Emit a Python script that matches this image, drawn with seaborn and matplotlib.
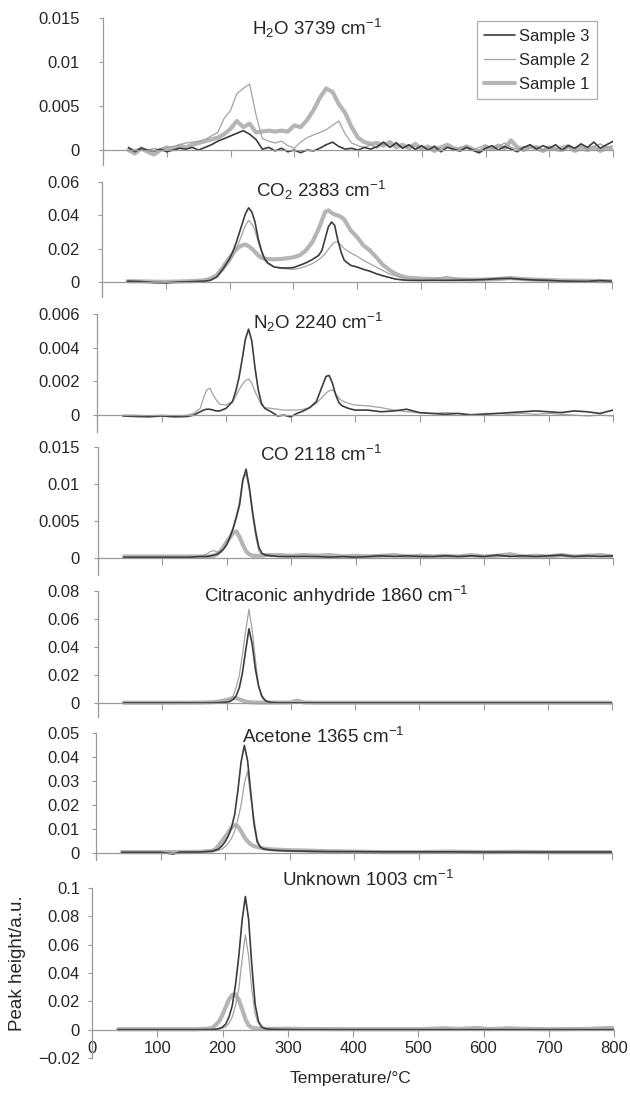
import numpy as np
import matplotlib
matplotlib.use("Agg")
import matplotlib.pyplot as plt
import seaborn as sns
from matplotlib.ticker import FuncFormatter

sns.set_style("ticks")
plt.rcParams['font.family'] = ['Liberation Sans', 'DejaVu Sans']
plt.rcParams['mathtext.fontset'] = 'custom'
plt.rcParams['mathtext.rm'] = 'Liberation Sans'
plt.rcParams['mathtext.it'] = 'Liberation Sans:italic'

# values, peak heights in units of 1e-3 a.u.
h2o_T = list(range(40, 801, 10))
h2o_s3 = [0.3, -0.2, 0.2, 0.0, -0.1, 0.1, -0.2, 0.0, 0.2, 0.1,
          0.3, 0.0, 0.3, 0.6, 1.0, 1.3, 1.6, 1.9, 2.2, 1.8,
          1.2, 0.1, 0.3, -0.1, 0.2, -0.2, 0.0, -0.3, 0.0, -0.1,
          0.2, 0.6, 0.9, 0.4, 0.1, 0.2, 0.0, 0.3, 0.1, 0.4,
          0.9, 0.3, 0.8, 0.2, 0.6, 0.1, 0.5, 0.0, 0.4, -0.2,
          0.3, 0.1, -0.1, 0.3, 0.0, -0.3, 0.2, 0.5, 0.0, 0.4,
          0.1, -0.2, 0.3, 0.6, 0.1, 0.5, 0.2, 0.6, 0.0, 0.5,
          0.2, 0.7, 0.3, 0.9, 0.2, 0.6, 1.0]
h2o_s2 = [0.2, 0.0, 0.3, -0.1, 0.2, 0.0, 0.3, 0.4, 0.6, 0.8,
          0.9, 1.0, 1.2, 1.6, 2.0, 3.6, 4.5, 6.4, 7.0, 7.5,
          4.0, 1.3, 1.0, 0.8, 1.0, 0.5, 0.2, 0.9, 1.4, 1.7,
          2.0, 2.3, 2.8, 3.3, 1.8, 0.8, 0.5, 0.3, 0.6, 0.2,
          0.7, 0.4, 0.9, 0.3, 0.6, 0.0, 0.4, 0.2, 0.5, 0.1,
          0.4, -0.1, 0.3, 0.5, 0.0, 0.3, 0.6, 0.2, 0.4, 0.8,
          0.3, 0.1, 0.4, 0.2, 0.5, 0.0, 0.3, 0.1, 0.4, 0.6,
          0.2, 0.5, 0.1, 0.4, 0.7, 0.3, 0.5]
h2o_s1 = [0.0, -0.4, 0.2, -0.2, -0.5, 0.0, 0.3, 0.1, 0.5, 0.3,
          0.6, 0.8, 1.0, 1.2, 1.4, 1.8, 2.4, 3.3, 2.6, 3.0,
          2.0, 2.1, 2.2, 2.1, 2.2, 2.1, 2.8, 2.6, 3.4, 4.5,
          5.9, 7.0, 6.6, 5.2, 4.2, 2.6, 1.4, 0.9, 0.7, 0.8,
          0.5, 0.9, 0.3, 0.6, 0.2, 0.7, 0.1, 0.4, -0.1, 0.3,
          0.6, 0.2, 0.0, 0.4, 0.1, -0.2, 0.3, 0.1, 0.5, 0.2,
          1.1, 0.3, 0.0, 0.4, 0.2, -0.1, 0.3, 0.1, 0.0, 0.4,
          -0.1, 0.2, 0.0, 0.3, -0.1, 0.2, 0.1]

co2_T = [40, 60, 80, 100, 120, 140, 160, 170, 180, 190,
         200, 205, 210, 215, 220, 225, 230, 235, 240, 245,
         250, 255, 260, 270, 280, 290, 300, 310, 320, 330,
         340, 345, 350, 355, 360, 365, 370, 375, 380, 390,
         400, 410, 420, 430, 440, 450, 460, 470, 480, 500,
         520, 540, 560, 580, 600, 620, 640, 660, 680, 700,
         720, 740, 760, 780, 800]
co2_s3 = [0.5, 0.3, -0.3, -0.5, 0.0, 0.2, 0.5, 1.0, 3.0, 8.0,
          14, 18, 23, 29, 35, 41, 44.5, 42, 36, 26,
          19, 14, 11.5, 9.0, 8.5, 8.4, 8.6, 10, 11.5, 13.5,
          16, 19, 26, 33, 36, 34, 25, 18, 13, 10,
          9, 7.6, 6.5, 5, 3.8, 2.8, 1.8, 1.3, 1.0, 0.9,
          1.0, 1.0, 1.1, 1.2, 1.5, 2.0, 2.2, 1.6, 1.2, 1.0,
          0.6, 0.4, 0.3, 0.9, 0.4]
co2_s2 = [0.4, 0.2, -0.2, -0.3, 0.1, 0.3, 0.6, 1.2, 3.0, 7.0,
          12, 15, 19, 24, 29, 34, 37, 35, 31, 24,
          18, 13, 11, 9.0, 8.2, 7.8, 7.6, 8.2, 9.4, 11,
          13.5, 15, 17, 19.5, 22, 24, 24, 22, 20, 17.5,
          15.5, 13, 11, 9, 7, 5, 3.8, 2.6, 2.0, 1.6,
          1.8, 3.2, 2.0, 1.5, 1.3, 1.4, 1.8, 1.5, 1.2, 1.0,
          0.8, 0.7, 0.6, 0.5, 0.4]
co2_s1 = [0.5, 0.4, 0.2, 0.1, 0.3, 0.5, 1.0, 2.0, 4.0, 9.0,
          14.5, 17, 19.5, 21, 22, 22.5, 21.5, 20, 18, 16,
          14.5, 14, 13.8, 13.6, 13.8, 14.2, 14.8, 16, 19, 24,
          32, 37, 42, 43, 41.5, 40.5, 40, 39, 37.5, 31,
          27, 22, 19, 15, 10.5, 7.5, 5, 3.5, 2.6, 2.0,
          1.8, 1.6, 1.5, 1.4, 1.5, 1.8, 2.4, 1.8, 1.4, 1.2,
          0.9, 0.8, 0.7, 0.6, 0.5]

n2o_T = [40, 60, 80, 100, 120, 140, 150, 160, 165, 170,
         175, 180, 185, 190, 200, 210, 215, 220, 225, 230,
         235, 240, 245, 250, 255, 260, 270, 280, 290, 300,
         310, 320, 330, 340, 345, 350, 355, 360, 365, 370,
         375, 380, 390, 400, 420, 440, 460, 480, 500, 520,
         540, 560, 580, 600, 620, 640, 660, 680, 700, 720,
         740, 760, 780, 800]
n2o_s3 = [-0.05, -0.08, -0.1, -0.05, -0.1, -0.08, 0.0, 0.2, 0.3, 0.35,
          0.35, 0.3, 0.25, 0.25, 0.4, 0.8, 1.4, 2.2, 3.3, 4.5,
          5.1, 4.4, 2.8, 1.5, 0.7, 0.4, 0.2, -0.05, 0.0, -0.1,
          0.1, 0.25, 0.45, 0.8, 1.3, 1.8, 2.3, 2.35, 1.9, 1.2,
          0.75, 0.55, 0.4, 0.3, 0.3, 0.2, 0.25, 0.35, 0.15, 0.1,
          0.05, 0.1, 0.0, 0.05, 0.1, 0.15, 0.2, 0.25, 0.2, 0.15,
          0.25, 0.2, 0.1, 0.3]
n2o_s2 = [0.0, 0.0, -0.05, 0.0, -0.05, 0.0, 0.1, 0.4, 1.0, 1.5,
          1.6, 1.2, 0.9, 0.65, 0.6, 0.8, 1.1, 1.5, 1.8, 2.05,
          2.15, 1.9, 1.4, 1.0, 0.6, 0.45, 0.4, 0.35, 0.3, 0.3,
          0.3, 0.35, 0.45, 0.7, 0.9, 1.1, 1.3, 1.45, 1.5, 1.3,
          1.0, 0.85, 0.7, 0.6, 0.55, 0.45, 0.3, 0.2, 0.15, 0.1,
          0.15, 0.1, 0.05, 0.1, 0.1, 0.05, 0.1, 0.05, 0.1, 0.05,
          0.0, -0.05, 0.0, -0.05]

co_T = [40, 60, 80, 100, 120, 140, 160, 170, 175, 180,
        185, 190, 195, 200, 205, 210, 215, 220, 225, 230,
        235, 240, 245, 250, 255, 260, 270, 280, 300, 320,
        340, 360, 380, 400, 420, 440, 460, 480, 500, 520,
        540, 560, 580, 600, 620, 640, 660, 680, 700, 720,
        740, 760, 780, 800]
co_s3 = [0.1, 0.1, 0.1, 0.1, 0.1, 0.1, 0.2, 0.2, 0.3, 0.4,
         0.5, 0.8, 1.2, 1.8, 2.8, 4.0, 5.5, 7.2, 10.5, 12.0,
         9.6, 6.3, 3.5, 1.4, 0.6, 0.4, 0.3, 0.2, 0.2, 0.2,
         0.2, 0.1, 0.2, 0.1, 0.2, 0.3, 0.2, 0.3, 0.2, 0.2,
         0.3, 0.2, 0.3, 0.2, 0.4, 0.2, 0.3, 0.2, 0.3, 0.4,
         0.2, 0.3, 0.2, 0.3]
co_s2 = [0.1, 0.1, 0.1, 0.1, 0.1, 0.1, 0.2, 0.6, 0.9, 1.0,
         0.8, 0.8, 1.2, 2.2, 3.0, 4.2, 5.8, 7.7, 10.8, 11.3,
         9.2, 5.8, 2.9, 0.9, 0.5, 0.3, 0.2, 0.2, 0.2, 0.2,
         0.2, 0.2, 0.2, 0.2, 0.2, 0.2, 0.2, 0.2, 0.2, 0.2,
         0.2, 0.2, 0.2, 0.2, 0.2, 0.2, 0.2, 0.2, 0.2, 0.2,
         0.2, 0.2, 0.2, 0.2]
co_s1 = [0.2, 0.2, 0.2, 0.2, 0.2, 0.2, 0.2, 0.2, 0.2, 0.3,
         0.5, 0.9, 1.5, 2.2, 2.8, 3.4, 3.6, 2.8, 1.8, 0.9,
         0.5, 0.3, 0.3, 0.3, 0.3, 0.4, 0.4, 0.4, 0.3, 0.4,
         0.3, 0.4, 0.2, 0.3, 0.2, 0.3, 0.4, 0.2, 0.3, 0.2,
         0.3, 0.2, 0.4, 0.2, 0.3, 0.5, 0.2, 0.3, 0.2, 0.4,
         0.2, 0.3, 0.4, 0.2]

cit_T = [40, 100, 160, 180, 190, 200, 205, 210, 215, 220,
         225, 230, 235, 240, 245, 250, 255, 260, 265, 270,
         280, 300, 310, 320, 340, 400, 500, 600, 700, 800]
cit_s3 = [0.1, 0.1, 0.1, 0.2, 0.3, 0.6, 1.0, 2.5, 5, 11,
          22, 38, 53, 42, 24, 12, 5, 2, 0.8, 0.4,
          0.2, 0.1, 0.1, 0.1, 0.1, 0.1, 0.1, 0.1, 0.1, 0.1]
cit_s2 = [0.1, 0.1, 0.1, 0.2, 0.3, 0.8, 2.0, 4.5, 11, 20,
          35, 52, 67, 52, 31, 12, 4, 1.0, 0.5, 0.3,
          0.2, 0.1, 0.1, 0.1, 0.1, 0.1, 0.1, 0.1, 0.1, 0.1]
cit_s1 = [0.2, 0.2, 0.3, 0.6, 1.2, 2.2, 2.8, 3.5, 3.4, 2.6,
          1.8, 1.0, 0.6, 0.4, 0.3, 0.3, 0.3, 0.3, 0.3, 0.3,
          0.3, 0.4, 1.7, 0.4, 0.2, 0.2, 0.2, 0.2, 0.2, 0.2]

ace_T = [40, 100, 120, 130, 160, 180, 185, 190, 195, 200,
         205, 210, 215, 220, 225, 230, 235, 240, 245, 250,
         255, 260, 270, 280, 300, 320, 340, 360, 400, 450,
         500, 550, 600, 650, 700, 750, 800]
ace_s3 = [0.2, 0.2, -0.5, 0.3, 0.3, 0.7, 1.1, 1.6, 2.8, 4.5,
          7, 10.5, 16, 26, 38, 44.8, 38.5, 25, 12, 4.5,
          2.3, 1.6, 1.2, 1.0, 0.8, 0.7, 0.6, 0.5, 0.5, 0.4,
          0.4, 0.4, 0.3, 0.3, 0.3, 0.3, 0.3]
ace_s2 = [0.2, 0.2, 0.2, 0.2, 0.3, 0.5, 0.7, 1.0, 1.5, 2.5,
          4, 6, 9, 14, 20, 29, 34, 23, 14, 5.5,
          2.5, 1.8, 1.3, 1.1, 0.9, 0.8, 0.7, 0.6, 0.5, 0.4,
          0.4, 0.4, 0.3, 0.3, 0.3, 0.3, 0.3]
ace_s1 = [0.3, 0.3, 0.3, 0.3, 0.4, 0.8, 1.4, 3.0, 4.8, 6.5,
          8.5, 10.5, 11.6, 11.0, 9.0, 6.5, 4.8, 3.5, 2.8, 2.4,
          2.1, 1.8, 1.5, 1.3, 1.1, 1.0, 0.8, 0.7, 0.5, 0.3,
          0.3, 0.5, 0.3, 0.4, 0.3, 0.3, 0.3]

unk_T = [40, 100, 160, 180, 185, 190, 195, 200, 205, 210,
         215, 220, 225, 230, 235, 240, 245, 250, 255, 260,
         265, 270, 280, 300, 320, 400, 500, 540, 560, 590,
         610, 640, 660, 700, 760, 780, 800]
unk_s3 = [0.0, 0.0, 0.0, 0.1, 0.2, 0.4, 0.9, 1.8, 4, 9,
          17, 32, 52, 77, 94, 78, 45, 18, 6, 2,
          0.8, 0.4, 0.2, 0.1, 0.0, 0.0, 0.0, 0.0, 0.0, 0.0,
          0.0, 0.0, 0.0, 0.0, 0.0, 0.0, 0.0]
unk_s2 = [0.0, 0.0, 0.0, 0.1, 0.1, 0.2, 0.4, 1.0, 2.0, 4.5,
          9, 17, 29, 49, 67, 52, 28, 11, 4.5, 1.8,
          1.0, 0.6, 0.3, 0.2, 0.1, 0.1, 0.1, 0.1, 0.1, 0.1,
          0.1, 0.1, 0.1, 0.1, 0.1, 0.1, 0.1]
unk_s1 = [0.3, 0.3, 0.3, 0.8, 1.5, 3.5, 6, 10.5, 16, 21.5,
          24.5, 25, 21, 14.5, 7.5, 3, 1.5, 1.0, 0.8, 0.7,
          0.6, 0.6, 0.6, 0.7, 0.5, 0.3, 0.3, 1.0, 0.5, 1.2,
          0.4, 1.0, 0.6, 0.3, 0.5, 1.0, 1.2]

titles = [r"H$_2$O 3739 cm$^{-1}$", r"CO$_2$ 2383 cm$^{-1}$", r"N$_2$O 2240 cm$^{-1}$",
          r"CO 2118 cm$^{-1}$", r"Citraconic anhydride 1860 cm$^{-1}$",
          r"Acetone 1365 cm$^{-1}$", r"Unknown 1003 cm$^{-1}$"]
y_ticks = [[0, 0.005, 0.01, 0.015], [0, 0.02, 0.04, 0.06], [0, 0.002, 0.004, 0.006],
           [0, 0.005, 0.01, 0.015], [0, 0.02, 0.04, 0.06, 0.08],
           [0, 0.01, 0.02, 0.03, 0.04, 0.05], [-0.02, 0, 0.02, 0.04, 0.06, 0.08, 0.1]]
x_ticks = [0, 100, 200, 300, 400, 500, 600, 700, 800]
sample_names = ["Sample 1", "Sample 2", "Sample 3"]

panels = [
    (h2o_T, [h2o_s1, h2o_s2, h2o_s3]),
    (co2_T, [co2_s1, co2_s2, co2_s3]),
    (n2o_T, [None, n2o_s2, n2o_s3]),
    (co_T, [co_s1, co_s2, co_s3]),
    (cit_T, [cit_s1, cit_s2, cit_s3]),
    (ace_T, [ace_s1, ace_s2, ace_s3]),
    (unk_T, [unk_s1, unk_s2, unk_s3]),
]

# layout in pixels: left, right, top, bottom, ymin, title x (deg C), title y (axes frac)
W, H = 630, 1096
layout = [
    (103, 613, 18, 165, -0.0017, 336, 0.93),
    (102, 612, 182, 297, -0.009, 344, 0.93),
    (97, 613, 314, 432, -0.001, 343, 0.93),
    (98, 613, 447, 575, -0.0023, 346, 0.94),
    (98, 612, 591, 717, -0.01, 371, 0.96),
    (96, 612, 733, 860, -0.003, 353, 0.97),
    (92, 614, 888, 1058, -0.02, 423, 1.047),
]
label_right = 80  # y tick labels end at this pixel column in every panel
styles = {"Sample 1": dict(color="#b5b5b5", lw=3.0),
          "Sample 2": dict(color="#a3a3a3", lw=0.9),
          "Sample 3": dict(color="#3c3c3c", lw=1.2)}
axis_grey = "#9a9a9a"


def fmt(v, pos):
    if abs(v) < 1e-12:
        return "0"
    return f"{v:g}".replace("-", "\u2212")


fig = plt.figure(figsize=(W / 100, H / 100), dpi=100)
for i, ((temps, series), (l, r, t, b, ymin, tx, ty)) in enumerate(zip(panels, layout)):
    ax = fig.add_axes([l / W, 1 - b / H, (r - l) / W, (b - t) / H])
    for name, vals in zip(sample_names, series):
        if vals is None:
            continue
        sns.lineplot(x=temps, y=np.array(vals) * 1e-3, ax=ax, label=name,
                     legend=False, **styles[name])
    ax.set_xlim(0, 800)
    ax.set_ylim(ymin, y_ticks[i][-1])
    ax.set_yticks(y_ticks[i])
    ax.yaxis.set_major_formatter(FuncFormatter(fmt))
    ax.set_xticks(x_ticks)
    ax.set_xticklabels([])
    for s in ["top", "right"]:
        ax.spines[s].set_visible(False)
    ax.spines["bottom"].set_position(("data", 0))
    for s in ["left", "bottom"]:
        ax.spines[s].set_color(axis_grey)
        ax.spines[s].set_linewidth(0.9)
    tick_len = 3
    pad_pt = (l - label_right) * 0.72 - tick_len
    ax.tick_params(axis="y", length=tick_len, width=0.8, color=axis_grey,
                   labelsize=12, pad=pad_pt)
    ax.tick_params(axis="x", length=5, width=0.8, color=axis_grey, direction="out")
    ax.set_xlabel("")
    ax.set_ylabel("")
    ax.text(tx, ty, titles[i], transform=ax.get_xaxis_transform(),
            ha="center", va="center", fontsize=13.5)
    if i == 0:
        h, lab = ax.get_legend_handles_labels()
        order = [lab.index(n) for n in ["Sample 3", "Sample 2", "Sample 1"]]
        leg = ax.legend([h[k] for k in order], [lab[k] for k in order],
                        loc="upper right", bbox_to_anchor=((597 - l) / (r - l), (b - 21) / (b - t)),
                        fontsize=12, frameon=True, fancybox=False,
                        handlelength=1.85, handletextpad=0.25, borderpad=0.45,
                        labelspacing=0.55, borderaxespad=0)
        leg.get_frame().set_edgecolor(axis_grey)
        leg.get_frame().set_linewidth(0.9)
    if i == len(panels) - 1:
        sec = ax.secondary_xaxis(0.1)
        sec.set_xticks(x_ticks)
        sec.xaxis.set_major_formatter(FuncFormatter(lambda v, p: f"{v:g}"))
        sec.tick_params(length=0, labelsize=12, pad=0)
        for sp in sec.spines.values():
            sp.set_visible(False)

fig.text(350 / W, 1 - 1078 / H, "Temperature/\u00b0C", ha="center", va="center", fontsize=12.5)
fig.text(18 / W, 1 - 963 / H, "Peak height/a.u.", ha="center", va="center",
         rotation=90, fontsize=13.5)

fig.savefig("out.png", dpi=100)
